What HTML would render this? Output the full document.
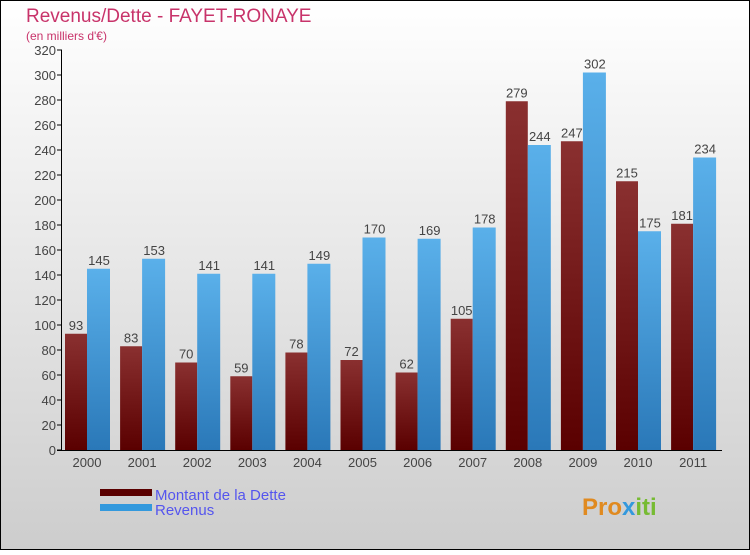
<!DOCTYPE html>
<html><head><meta charset="utf-8"><style>
body{margin:0;width:750px;height:550px;overflow:hidden;font-family:"Liberation Sans",sans-serif}
</style></head><body>
<svg id="c" width="750" height="550">
<defs>
<linearGradient id="bg" x1="0" y1="0" x2="0" y2="1"><stop offset="0" stop-color="#ffffff"/><stop offset="1" stop-color="#cdcdcd"/></linearGradient>
<linearGradient id="gd" x1="0" y1="0" x2="0" y2="1"><stop offset="0" stop-color="#8a3030"/><stop offset="1" stop-color="#5a0000"/></linearGradient>
<linearGradient id="gr" x1="0" y1="0" x2="0" y2="1"><stop offset="0" stop-color="#5ab0ea"/><stop offset="1" stop-color="#2a78b8"/></linearGradient>
</defs>
<rect x="0.5" y="0.5" width="749" height="549" fill="url(#bg)" stroke="#000"/>
<text x="26" y="22" font-size="19" fill="#c8336a">Revenus/Dette - FAYET-RONAYE</text>
<text x="26" y="40" font-size="12" fill="#c8336a">(en milliers d'€)</text>
<g id="plot"></g>
<rect x="100" y="489" width="52" height="7" fill="#5a0000"/>
<text x="155" y="500" font-size="15" fill="#5555ee">Montant de la Dette</text>
<rect x="100" y="504" width="52" height="7" fill="#3399dd"/>
<text x="155" y="515" font-size="15" fill="#5555ee">Revenus</text>
<text x="582" y="515" font-size="24" font-weight="bold" fill="#e08a20">Pro<tspan fill="#3399dd">x</tspan><tspan fill="#77bb33">iti</tspan></text>
</svg>
<script>
const years=["2000","2001","2002","2003","2004","2005","2006","2007","2008","2009","2010","2011"];
const dette=[93,83,70,59,78,72,62,105,279,247,215,181];
const revenus=[145,153,141,141,149,170,169,178,244,302,175,234];
const ticks=[0,20,40,60,80,100,120,140,160,180,200,220,240,260,280,300,320];
const NS="http://www.w3.org/2000/svg";
const g=document.getElementById('plot');
const y=v=>450-v*1.25;
const xc=i=>87+i*55.1;
function mk(t,a){const e=document.createElementNS(NS,t);for(const k in a)e.setAttribute(k,a[k]);g.appendChild(e);return e;}
ticks.forEach(t=>{
 const l=mk('line',{x1:57,x2:62,y1:y(t),y2:y(t),stroke:'#000'});
 
 
 const tx=mk('text',{x:56,y:y(t)+5,'font-size':13,fill:'#444','text-anchor':'end'});tx.textContent=t;
 
 
});
years.forEach((yr,i)=>{
 const c=xc(i);
 const b1=mk('rect',{x:c-22,y:y(dette[i]),width:22,height:dette[i]*1.25,fill:'url(#gd)'});
 
 
 const b2=mk('rect',{x:c,y:y(revenus[i]),width:23,height:revenus[i]*1.25,fill:'url(#gr)'});
 
 
 const v1=mk('text',{x:c-11,y:y(dette[i])-4,'font-size':13,fill:'#444','text-anchor':'middle'});v1.textContent=dette[i];
 
 
 const v2=mk('text',{x:c+12,y:y(revenus[i])-4,'font-size':13,fill:'#444','text-anchor':'middle'});v2.textContent=revenus[i];
 
 
 const xl=mk('text',{x:c,y:467,'font-size':13,fill:'#444','text-anchor':'middle'});xl.textContent=yr;
 
 
});
const ax=mk('line',{x1:61.5,x2:61.5,y1:50,y2:450,stroke:'#000'});


const bx=mk('line',{x1:57,x2:722,y1:450.5,y2:450.5,stroke:'#000'});


</script>
</body></html>
